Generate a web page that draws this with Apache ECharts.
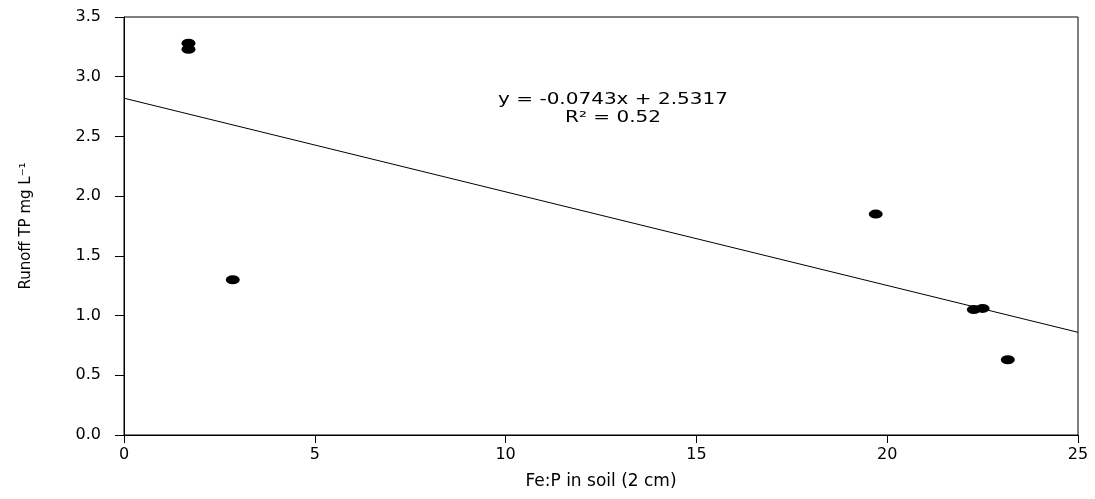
<!DOCTYPE html>
<html>
<head>
<meta charset="utf-8">
<script src="https://cdn.jsdelivr.net/npm/echarts@6/dist/echarts.min.js"></script>
<style>html,body{margin:0;padding:0;background:#fff}#c{width:1095px;height:499px}</style>
</head>
<body>
<div id="c"></div>
<script>
const feP = [1.69, 1.69, 2.85, 19.70, 22.27, 22.50, 23.16];
const runoffTP = [3.28, 3.23, 1.30, 1.85, 1.05, 1.06, 0.63];
const trendX = [0, 25];
const trendY = [2.82, 0.86];
const equationText = 'y = -0.0743x + 2.5317';
const r2Text = 'R² = 0.52';
const xName = 'Fe:P in soil (2 cm)';
const yName = 'Runoff TP mg L⁻¹';

const FONT = 'DejaVu Sans';
const chart = echarts.init(document.getElementById('c'), null, {renderer: 'canvas'});
chart.setOption({
  animation: false,
  backgroundColor: '#fff',
  grid: {left: 124, right: 17, top: 17, bottom: 64, show: true, borderColor: '#000', borderWidth: 1, backgroundColor: 'transparent'},
  xAxis: {
    type: 'value', min: 0, max: 25, interval: 5,
    name: xName, nameLocation: 'middle', nameGap: 38,
    nameTextStyle: {fontFamily: FONT, fontSize: 17, color: '#000'},
    axisLine: {show: true, lineStyle: {color: '#000', width: 1}},
    axisTick: {show: true, inside: false, length: 8, lineStyle: {color: '#000'}},
    axisLabel: {fontFamily: FONT, fontSize: 16, color: '#000', margin: 12},
    splitLine: {show: false}
  },
  yAxis: {
    type: 'value', min: 0, max: 3.5, interval: 0.5,
    name: yName, nameLocation: 'middle', nameGap: 90, nameRotate: 90,
    nameTextStyle: {fontFamily: FONT, fontSize: 15, color: '#000'},
    axisLine: {show: true, lineStyle: {color: '#000', width: 1}},
    axisTick: {show: true, inside: false, length: 9, lineStyle: {color: '#000'}},
    axisLabel: {fontFamily: FONT, fontSize: 16, color: '#000', margin: 23, formatter: v => v.toFixed(1)},
    splitLine: {show: false}
  },
  series: [
    {
      type: 'line',
      data: trendX.map((x, i) => [x, trendY[i]]),
      showSymbol: false, symbol: 'none',
      lineStyle: {color: '#000', width: 1},
      silent: true, z: 2
    },
    {
      type: 'scatter',
      data: feP.map((x, i) => [x, runoffTP[i]]),
      symbol: 'circle', symbolSize: [14, 9],
      itemStyle: {color: '#000', opacity: 1},
      z: 3
    }
  ],
  graphic: [
    {type: 'text', x: 613, y: 100, scaleX: 1.25, originX: 0, originY: 0,
     style: {text: equationText, fontFamily: FONT, fontSize: 16, fill: '#000', textAlign: 'center', textVerticalAlign: 'middle'}},
    {type: 'text', x: 613, y: 118, scaleX: 1.25, originX: 0, originY: 0,
     style: {text: r2Text, fontFamily: FONT, fontSize: 16, fill: '#000', textAlign: 'center', textVerticalAlign: 'middle'}}
  ]
});
</script>
</body>
</html>
